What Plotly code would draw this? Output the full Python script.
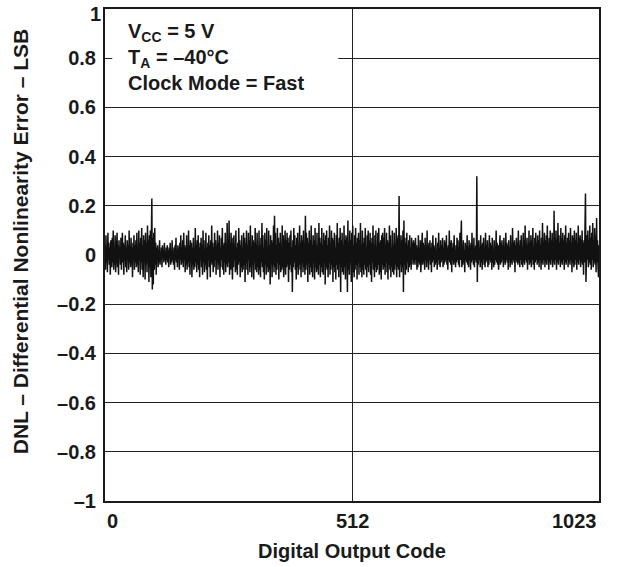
import plotly.graph_objects as go

# DNL per output code, in hundredths of an LSB (codes 0..1023, 32 per row)
DNL_HUNDREDTHS = [
    4, -6, 8, -3, 2, -7, 9, -2, 5, -4, 3, -8, 6, 1, -5, 7, -3, 10, -6, 2, -4, 8, -7, 3, -2, 9, -5, 4, -8, 6, -1, 3,
    -4, 7, -6, 2, 9, -3, 5, -8, 4, -2, 8, -5, 3, -7, 6, -1, 4, -6, 10, -3, 2, -5, 7, -4, 3, -9, 5, -2, 8, -6, 4, -3,
    6, -5, 9, -4, 3, -7, 10, -2, 5, -8, 7, -3, 11, -6, 4, -9, 8, -2, 6, -10, 9, -4, 5, -7, 12, -3, 6, -11, 8, -5, 10, -9,
    14, 23, -14, 7, -12, 9, -6, 11, -4, 5, -8, 3, -2, 4, -5, 2, -3, 6, -4, 1, -2, 3, -5, 4, -1, 2, -3, 5, -2, 1, -4, 3,
    -2, 4, -3, 2, -5, 3, -1, 5, -4, 2, -3, 6, -2, 1, -4, 3, -6, 4, -2, 7, -3, 2, -5, 4, -1, 3, -6, 5, -2, 8, -4, 3,
    -3, 6, -5, 9, -2, 4, -7, 3, -4, 8, -6, 2, -3, 10, -5, 4, -8, 6, -2, 5, -9, 3, -4, 7, -6, 2, -5, 11, -3, 4, -7, 6,
    -4, 8, -6, 3, -9, 5, -2, 7, -5, 4, -8, 10, -3, 6, -7, 2, -4, 9, -6, 3, -10, 5, -2, 8, -5, 4, -9, 6, -3, 12, -4, 5,
    -7, 3, -5, 9, -2, 6, -8, 4, -3, 10, -6, 5, -4, 8, -9, 3, -5, 7, -2, 11, -6, 4, -8, 5, -3, 9, -7, 2, -4, 13, -5, 6,
    -3, 14, -8, 5, -6, 9, -4, 3, -10, 7, -5, 8, -2, 4, -7, 10, -6, 3, -8, 5, -4, 11, -3, 6, -9, 4, -5, 8, -7, 3, -6, 9,
    -4, 7, -11, 5, -3, 10, -6, 4, -8, 9, -2, 6, -7, 12, -5, 3, -9, 8, -4, 6, -10, 5, -3, 11, -6, 4, -7, 9, -5, 3, -8, 10,
    -6, 4, -9, 7, -3, 13, -5, 8, -7, 3, -10, 9, -4, 6, -8, 11, -5, 3, -7, 10, -6, 4, -12, 8, -3, 6, -9, 5, -4, 12, -7, 16,
    -5, 9, -8, 4, -6, 11, -3, 7, -10, 5, -4, 9, -7, 3, -6, 12, -5, 8, -9, 4, -3, 10, -8, 6, -5, 9, -4, 7, -11, 5, -6, 8,
    -4, 10, -7, 3, -15, 6, -5, 11, -3, 8, -6, 4, -10, 7, -5, 9, -8, 3, -4, 12, -6, 5, -9, 8, -3, 6, -7, 10, -5, 4, -8, 16,
    -6, 9, -4, 7, -11, 5, -3, 10, -8, 6, -5, 12, -7, 4, -9, 8, -3, 6, -10, 11, -5, 4, -7, 9, -6, 3, -8, 13, -4, 7, -9, 5,
    -5, 11, -7, 4, -8, 9, -3, 6, -12, 8, -5, 10, -6, 4, -9, 7, -3, 12, -8, 5, -6, 10, -4, 7, -11, 6, -5, 9, -7, 3, -10, 8,
    -4, 13, -6, 5, -9, 7, -3, 11, -15, 6, -5, 9, -7, 4, -8, 12, -5, 6, -10, 8, -4, 7, -15, 14, -6, 5, -8, 10, -3, 6, -11, 9,
    -5, 12, -7, 4, -9, 8, -6, 11, -4, 5, -10, 7, -3, 9, -8, 6, -5, 13, -7, 4, -9, 10, -6, 5, -8, 7, -4, 11, -6, 3, -9, 8,
    -5, 10, -7, 6, -4, 9, -8, 5, -11, 7, -3, 12, -6, 4, -9, 8, -5, 10, -7, 3, -6, 9, -4, 11, -8, 5, -7, 6, -10, 8, -4, 9,
    -6, 7, -5, 11, -8, 4, -3, 9, -7, 6, -10, 5, -4, 12, -6, 8, -9, 3, -5, 10, -7, 4, -8, 9, -6, 5, -4, 11, -9, 7, -5, 8,
    -6, 24, -9, 5, -4, 8, -7, 6, -5, 10, -15, 14, -4, 7, -8, 5, -6, 9, -3, 4, -7, 6, -5, 8, -4, 3, -6, 7, -2, 5, -4, 6,
    -3, 5, -4, 7, -2, 4, -6, 3, -5, 8, -3, 2, -4, 6, -7, 3, -2, 9, -4, 5, -3, 4, -6, 7, -2, 3, -5, 10, -3, 4, -6, 5,
    -2, 6, -4, 3, -7, 5, -3, 8, -2, 4, -5, 3, -4, 7, -3, 2, -6, 5, -2, 9, -4, 3, -5, 6, -3, 4, -2, 7, -5, 3, -4, 6,
    -3, 5, -2, 8, -4, 3, -6, 4, -2, 10, -3, 5, -4, 6, -7, 3, -2, 5, -4, 8, -3, 2, -5, 4, -3, 7, -2, 6, -4, 3, -5, 9,
    -2, 4, 14, -5, 3, -4, 6, -3, 2, -7, 5, -2, 4, -3, 8, -4, 3, -5, 6, -2, 4, -6, 5, -3, 9, -2, 3, -4, 7, -5, 3, -2,
    4, -3, 32, -11, 5, -4, 6, -2, 3, -5, 8, -3, 4, -6, 5, -2, 7, -4, 3, -5, 9, -3, 4, -2, 6, -5, 3, -4, 8, -2, 5, -3,
    4, -6, 7, -3, 2, -5, 6, -4, 3, -2, 10, -3, 5, -4, 4, -6, 3, -2, 8, -4, 5, -3, 6, -2, 4, -5, 7, -3, 3, -4, 9, -2,
    5, -3, 4, -6, 6, -2, 3, -5, 8, -3, 4, -4, 11, -2, 5, -3, 6, -7, 4, -2, 7, -3, 5, -4, 10, -3, 4, -5, 6, -2, 8, -4,
    3, -5, 9, -3, 6, -4, 12, -2, 5, -3, 7, -6, 4, -2, 10, -4, 5, -3, 8, -5, 6, -2, 11, -4, 3, -6, 7, -3, 9, -2, 5, -4,
    8, -3, 6, -5, 10, -2, 4, -6, 7, -3, 13, -4, 5, -2, 9, -5, 6, -3, 8, -4, 12, -2, 5, -6, 7, -3, 10, -4, 6, -2, 9, -5,
    5, -3, 18, -4, 7, -2, 10, -6, 6, -3, 13, -4, 8, -2, 5, -5, 11, -3, 7, -4, 9, -2, 6, -6, 8, -3, 12, -4, 5, -2, 7, -5,
    9, -3, 6, -4, 11, -2, 5, -7, 8, -3, 7, -5, 10, -4, 6, -2, 9, -6, 5, -3, 12, -4, 7, -2, 8, -5, 6, -3, 10, -4, 5, -8,
    6, -3, 9, 25, -11, -4, 8, -2, 10, -5, 6, -3, 12, -4, 7, -6, 9, -2, 13, -5, 6, -3, 11, -4, 8, -7, 15, -3, 6, -5, -9, 4,
]

codes = list(range(len(DNL_HUNDREDTHS)))
dnl = [v / 100 for v in DNL_HUNDREDTHS]

X_TICKS = [0, 512, 1023]
X_LABEL_ANCHOR = ["left", "center", "right"]
Y_TICKS = [1, 0.8, 0.6, 0.4, 0.2, 0, -0.2, -0.4, -0.6, -0.8, -1]
Y_LABELS = ["1", "0.8", "0.6", "0.4", "0.2", "0", "–0.2", "–0.4", "–0.6", "–0.8", "–1"]

CONDITIONS = ["V<sub>CC</sub> = 5 V", "T<sub>A</sub> = –40°C", "Clock Mode = Fast"]
CONDITION_Y = [0.905, 0.80, 0.70]

FONT = "Liberation Sans, Arial, sans-serif"
INK = "#1a1a1a"
bold20 = dict(family=FONT, size=20, color=INK, weight="bold")

fig = go.Figure()
fig.add_trace(
    go.Scatter(
        x=codes,
        y=dnl,
        mode="lines",
        line=dict(color="#111111", width=1.5),
        showlegend=False,
        hoverinfo="skip",
    )
)

# white panel behind the test conditions (hides the 0.8 gridline there)
fig.add_shape(
    type="rect", xref="x", yref="y",
    x0=15, x1=483, y0=0.64, y1=0.97,
    fillcolor="white", line=dict(width=0), layer="above",
)
for txt, yy in zip(CONDITIONS, CONDITION_Y):
    fig.add_annotation(
        x=44, y=yy, xref="x", yref="y",
        text=txt, showarrow=False,
        xanchor="left", yanchor="middle",
        font=bold20,
    )

# x tick labels: end labels sit inside the frame edges like the original
for val, anchor in zip(X_TICKS, X_LABEL_ANCHOR):
    fig.add_annotation(
        x=val, y=0, xref="x", yref="paper",
        text=str(val), showarrow=False,
        xanchor=anchor, yanchor="middle", yshift=-20,
        font=bold20,
    )

# top y label would be clipped at the page edge; drop it a few px like the original
fig.add_annotation(
    x=0, y=Y_TICKS[0], xref="paper", yref="y",
    text=Y_LABELS[0], showarrow=False,
    xanchor="right", yanchor="middle", xshift=-2, yshift=-5,
    font=bold20,
)

# axis titles placed by hand so they sit like the original
fig.add_annotation(
    x=-0.172, y=0.528, xref="paper", yref="paper",
    text="DNL – Differential Nonlinearity Error – LSB", textangle=-90,
    showarrow=False, xanchor="center", yanchor="middle",
    font=dict(bold20, size=21),
)
fig.add_annotation(
    x=0.5, y=0, xref="paper", yref="paper",
    text="Digital Output Code", showarrow=False,
    xanchor="center", yanchor="middle", yshift=-50,
    font=bold20,
)

fig.update_layout(
    width=628,
    height=567,
    margin=dict(l=105, r=29, t=9, b=66),
    paper_bgcolor="white",
    plot_bgcolor="white",
    font=dict(family=FONT, color=INK),
    xaxis=dict(
        range=[0, 1023],
        tickvals=X_TICKS,
        showticklabels=False,
        showgrid=True, gridcolor="#222222", gridwidth=1,
        zeroline=False,
        showline=True, linecolor=INK, linewidth=2, mirror=True,
        ticks="", automargin=False,
    ),
    yaxis=dict(
        range=[-1, 1],
        tickvals=Y_TICKS,
        ticktext=[""] + Y_LABELS[1:],
        showgrid=True, gridcolor="#222222", gridwidth=1,
        zeroline=False,
        showline=True, linecolor=INK, linewidth=2, mirror=True,
        ticks="", ticklabelstandoff=3, automargin=False,
        tickfont=dict(size=20, weight="bold"),
    ),
)

fig.write_html(
    "out.html",
    config={"displayModeBar": False},
    post_script="document.body.style.margin='0';document.body.style.padding='0';",
)
